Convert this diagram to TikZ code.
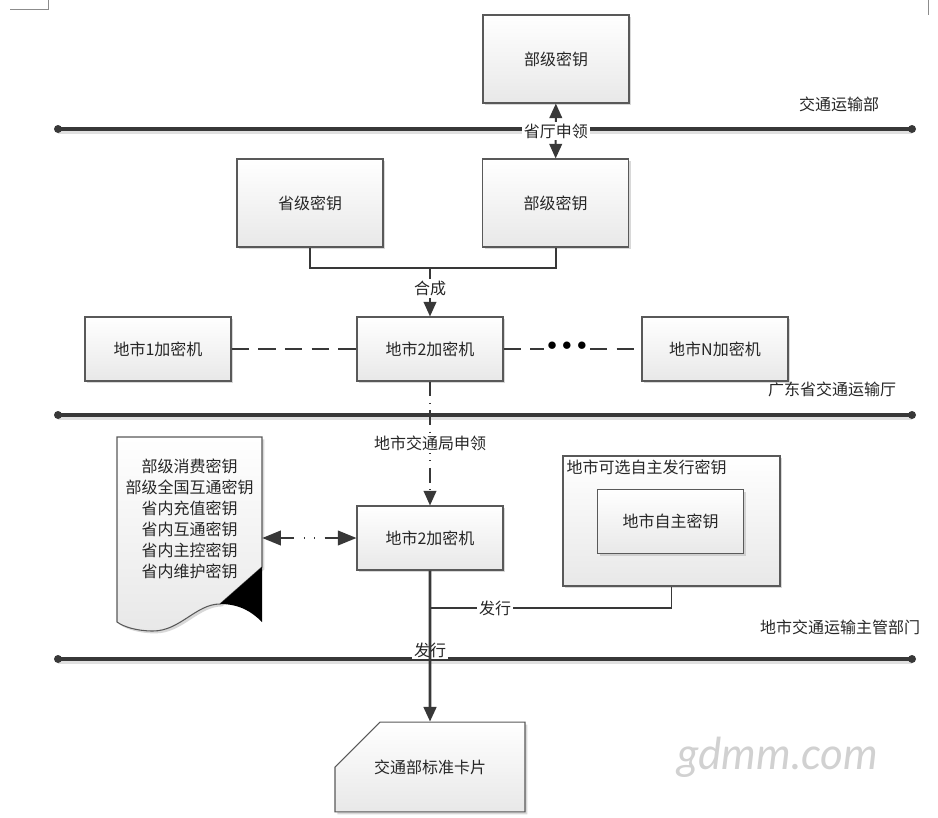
\documentclass[tikz,border=0pt]{standalone}
\usepackage{fontspec}
\setmainfont{Noto Sans CJK SC}
\newfontfamily\wmfont{Lato}
\usetikzlibrary{arrows.meta,shapes.misc,shadows}

\begin{document}
\begin{tikzpicture}[x=0.75pt,y=-0.75pt,>={Triangle[width=9.5pt,length=11pt]},font=\fontsize{12pt}{15.75pt}\selectfont,text=black!85,
shadebox/.style={draw=black!65, line width=0.8pt, top color=white, bottom color=black!9, drop shadow={shadow xshift=1.8pt, shadow yshift=-1.8pt, fill=black!30, opacity=0.5}},
key/.style={shadebox, minimum width=109.5pt, minimum height=66pt},
box/.style={shadebox, minimum width=109.5pt, minimum height=48pt},
lane/.style={line width=3pt, draw=black!78, preaction={draw=black!12, line width=3pt, transform canvas={yshift=-2.2pt}}},
conn/.style={draw=black!78, line width=1.5pt},
dashline/.style={conn, dash pattern=on 13pt off 7pt},
dashdot/.style={conn, dash pattern=on 11pt off 5pt on 0.6pt off 5pt},
lbl/.style={fill=white, inner sep=1.5pt}]
\useasboundingbox (0,0) rectangle (938,817);
\draw[black!45, line width=0.6pt] (10,9) -- (48,9) -- (48,0);
\draw[black!45, line width=0.6pt] (928,0) -- (928,15);
\coordinate (a1) at (58,129); \coordinate (b1) at (912,129);
\coordinate (a2) at (58,415); \coordinate (b2) at (912,415);
\coordinate (a3) at (58,659); \coordinate (b3) at (912,659);
\draw[lane] (a1) -- (b1);
\draw[lane] (a2) -- (b2);
\draw[lane] (a3) -- (b3);
\fill[black!78] (a1) circle (3pt) (b1) circle (3pt) (a2) circle (3pt) (b2) circle (3pt) (a3) circle (3pt) (b3) circle (3pt);
\node (t1) at (839,104) {交通运输部};
\node (t2) at (832,389) {广东省交通运输厅};
\node (t3) at (840,627) {地市交通运输主管部门};
\node[key] (mk) at (556,59) {部级密钥};
\node[key] (sk) at (310,203) {省级密钥};
\node[key] (bk) at (555.5,203) {部级密钥};
\node[box] (c1) at (158,349) {地市1加密机};
\node[box] (c2) at (430,349) {地市2加密机};
\node[box] (cn) at (715,349) {地市N加密机};
\node[minimum width=34pt, inner sep=0pt, font=\fontsize{13.5pt}{13.5pt}\selectfont, text=black] (dots) at (567,349) {\raisebox{4pt}{$\bullet\mkern1mu\bullet\mkern1mu\bullet$}};
\draw[shadebox] (117,437) -- (262,437) -- (262,567) -- (220,604) .. controls (196,604) and (180,631) .. (153,631) .. controls (137,631) and (124,627) .. (117,622) -- cycle;
\fill[black] (262,567) -- (220,604) .. controls (240,604) and (252,612) .. (262,622) -- cycle;
\node[align=center, minimum width=108.75pt] (doc) at (189.5,519) {部级消费密钥\\部级全国互通密钥\\省内充值密钥\\省内互通密钥\\省内主控密钥\\省内维护密钥};
\node[box] (lb2) at (430,538) {地市2加密机};
\node[shadebox, minimum width=162.75pt, minimum height=97.5pt] (ob) at (671.5,521) {};
\node[anchor=north west, inner sep=3pt] (obt) at (ob.north west) {地市可选自主发行密钥};
\node[box] (ik) at (670.5,521.5) {地市自主密钥};
\node[shadebox, chamfered rectangle, chamfered rectangle corners=north west, chamfered rectangle xsep=25.5pt, chamfered rectangle ysep=24.75pt, minimum width=142.5pt, minimum height=57pt] (card) at (430,767) {交通部标准卡片};
\node[text=black!18, font=\wmfont\itshape\fontsize{33pt}{33pt}\selectfont] (wm) at (778,757) {gdmm.com};
\coordinate (join) at (430,268);
\coordinate (fx) at (430,608);
\draw[conn, <->] (mk) -- node[lbl] {省厅申领} (bk);
\draw[conn] (sk) |- (join) -| (bk);
\draw[conn, ->] (join) -- node[lbl, pos=0.42] {合成} (c2);
\draw[dashline] (c1) -- (c2);
\draw[dashline] (c2) -- (dots);
\draw[dashline] (dots) -- (cn);
\draw[dashdot, ->] (c2) -- node[lbl] {地市交通局申领} (lb2);
\draw[conn, <->, >={Triangle[width=11pt,length=14pt]}, dash pattern=on 10.5pt off 7pt on 0.8pt off 7pt on 0.8pt off 7pt on 12pt] (doc.east |- lb2) -- (lb2);
\draw[conn, line width=1.2pt] (ob) -- (ob.south |- fx) -- node[lbl, pos=0.73] {发行} (fx);
\node[lbl] (fx2) at (430,650) {发行};
\draw[conn, line width=2pt, ->] (lb2) -- (card);
\end{tikzpicture}
\end{document}
